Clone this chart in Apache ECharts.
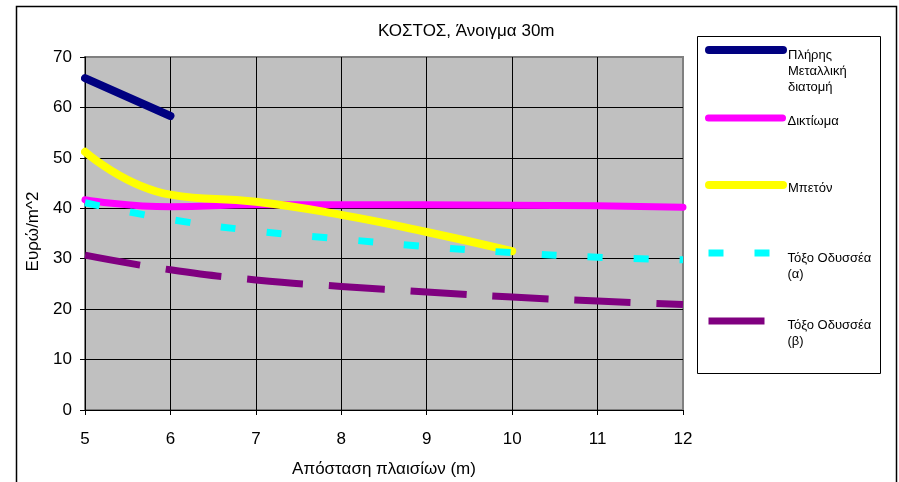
<!DOCTYPE html>
<html><head><meta charset="utf-8">
<script src="https://cdn.jsdelivr.net/npm/echarts@6/dist/echarts.min.js"></script>
<style>html,body{margin:0;padding:0;background:#fff}#c{width:899px;height:482px}</style>
</head><body><div id="c"></div>
<script>
// ---- data ----
const xValues = [5, 6, 7, 8, 9, 10, 11, 12];
const seriesNames = ['Πλήρης Μεταλλική διατομή', 'Δικτίωμα', 'Μπετόν', 'Τόξο Οδυσσέα (α)', 'Τόξο Οδυσσέα (β)'];
const legendLines = [['Πλήρης', 'Μεταλλική', 'διατομή'], ['Δικτίωμα'], ['Μπετόν'], ['Τόξο Οδυσσέα', '(α)'], ['Τόξο Οδυσσέα', '(β)']];
const metalValues = [65.8, 58.3];
const diktiomaValues = [41.7, 40.3, 40.7, 40.7, 40.7, 40.6, 40.5, 40.2];
const betonValues = [51.2, 42.7, 41.3, 38.7, 35.3, 31.5];
const toxoAValues = [41.1, 37.8, 35.5, 33.9, 32.4, 31.2, 30.3, 29.8];
const toxoBValues = [30.7, 27.8, 25.8, 24.5, 23.4, 22.4, 21.6, 20.9];
const titleText = 'ΚΟΣΤΟΣ, Άνοιγμα 30m';
const xAxisName = 'Απόσταση πλαισίων (m)';
const yAxisName = 'Ευρώ/m^2';

// ---- styles ----
const FONT = "'Liberation Sans', Arial, sans-serif";
const colors = ['#000080', '#FF00FF', '#FFFF00', '#00FFFF', '#800080'];
const valueSets = [metalValues, diktiomaValues, betonValues, toxoAValues, toxoBValues];
const lineTypes = ['solid', 'solid', 'solid', [15, 31], [56, 26]];
const lineWidths = [8, 7, 8, 7, 7];
const caps = ['round', 'round', 'round', 'butt', 'butt'];
const legendIconCenters = [50, 118, 185, 253, 321];
const legendOffsets = [5, 3, 3, 5, 4];
const LH = 16;

const pairs = v => v.map((y, i) => [xValues[i], y]);

const series = valueSets.map((vals, i) => ({
  name: seriesNames[i],
  type: 'line',
  data: pairs(vals),
  smooth: i === 0 ? false : 0.5,
  symbol: 'none',
  lineStyle: { color: colors[i], width: lineWidths[i], type: lineTypes[i], cap: caps[i], join: 'round' },
  itemStyle: { color: colors[i] },
  emphasis: { disabled: true },
  animation: false
}));

const TRANSP = 'rgba(0,0,0,0)';
const legends = seriesNames.map((n, i) => {
  const lines = legendLines[i];
  const k = lines.length;
  const h = 2 * (legendOffsets[i] + (LH / 2) * k - LH / 2);
  const blockH = h + LH * k;
  return {
    data: [n],
    orient: 'vertical',
    left: 705,
    top: legendIconCenters[i] - blockH / 2,
    padding: 0,
    itemWidth: 74,
    itemHeight: 8,
    itemGap: 0,
    selectedMode: false,
    lineStyle: { width: lineWidths[i], cap: caps[i], type: lineTypes[i], color: colors[i] },
    itemStyle: { opacity: 0, borderWidth: 0 },
    formatter: () => '{s| }\n' + lines.map(l => '{t|' + l + '}').join('\n'),
    textStyle: {
      fontFamily: FONT, fontSize: 13, color: '#000',
      rich: {
        s: { fontSize: 1, lineHeight: h, height: h, backgroundColor: TRANSP },
        t: { fontFamily: FONT, fontSize: 13, lineHeight: LH, height: LH, color: '#000', backgroundColor: TRANSP }
      }
    }
  };
});

const gridColors = ['#000', '#000', '#000', '#000', '#000', '#000', '#000', '#808080'];

const chart = echarts.init(document.getElementById('c'), null, { renderer: 'canvas' });
chart.setOption({
  backgroundColor: '#fff',
  animation: false,
  title: {
    text: titleText, left: 378, top: 21, padding: 0,
    textStyle: { fontFamily: FONT, fontSize: 17, fontWeight: 'normal', color: '#000', lineHeight: 20 }
  },
  graphic: [
    { type: 'rect', shape: { x: 16.5, y: 6.5, width: 880, height: 520 }, style: { fill: 'none', stroke: '#000', lineWidth: 1.5 }, z: -10 },
    { type: 'rect', shape: { x: 697.5, y: 36.5, width: 183, height: 337 }, style: { fill: '#fff', stroke: '#000', lineWidth: 1 }, z: -5 }
  ],
  legend: legends,
  grid: {
    left: 85, top: 57, right: 216, bottom: 72,
    show: true, backgroundColor: '#C0C0C0', borderColor: '#808080', borderWidth: 2,
    outerBoundsMode: 'none'
  },
  xAxis: {
    type: 'value', min: 5, max: 12, interval: 1,
    name: xAxisName, nameLocation: 'middle', nameGap: 51,
    nameTextStyle: { fontFamily: FONT, fontSize: 17, color: '#000' },
    axisLine: { show: true, onZero: false, lineStyle: { color: '#000', width: 1 } },
    axisTick: { show: true, length: 5, inside: false, lineStyle: { color: '#000' } },
    axisLabel: { fontFamily: FONT, fontSize: 17, color: '#000', margin: 21 },
    splitLine: { show: true, lineStyle: { color: gridColors, width: 1 } }
  },
  yAxis: {
    type: 'value', min: 0, max: 70, interval: 10,
    name: yAxisName, nameLocation: 'middle', nameGap: 40, nameRotate: 90,
    nameTextStyle: { fontFamily: FONT, fontSize: 17, color: '#000', padding: [0, 0, 0, 4] },
    axisLine: { show: true, lineStyle: { color: '#000', width: 1 } },
    axisTick: { show: true, length: 5, inside: false, lineStyle: { color: '#000' } },
    axisLabel: { fontFamily: FONT, fontSize: 17, color: '#000', margin: 13 },
    splitLine: { show: true, lineStyle: { color: gridColors, width: 1 } }
  },
  tooltip: { show: false },
  series: series
});
</script>
</body></html>
